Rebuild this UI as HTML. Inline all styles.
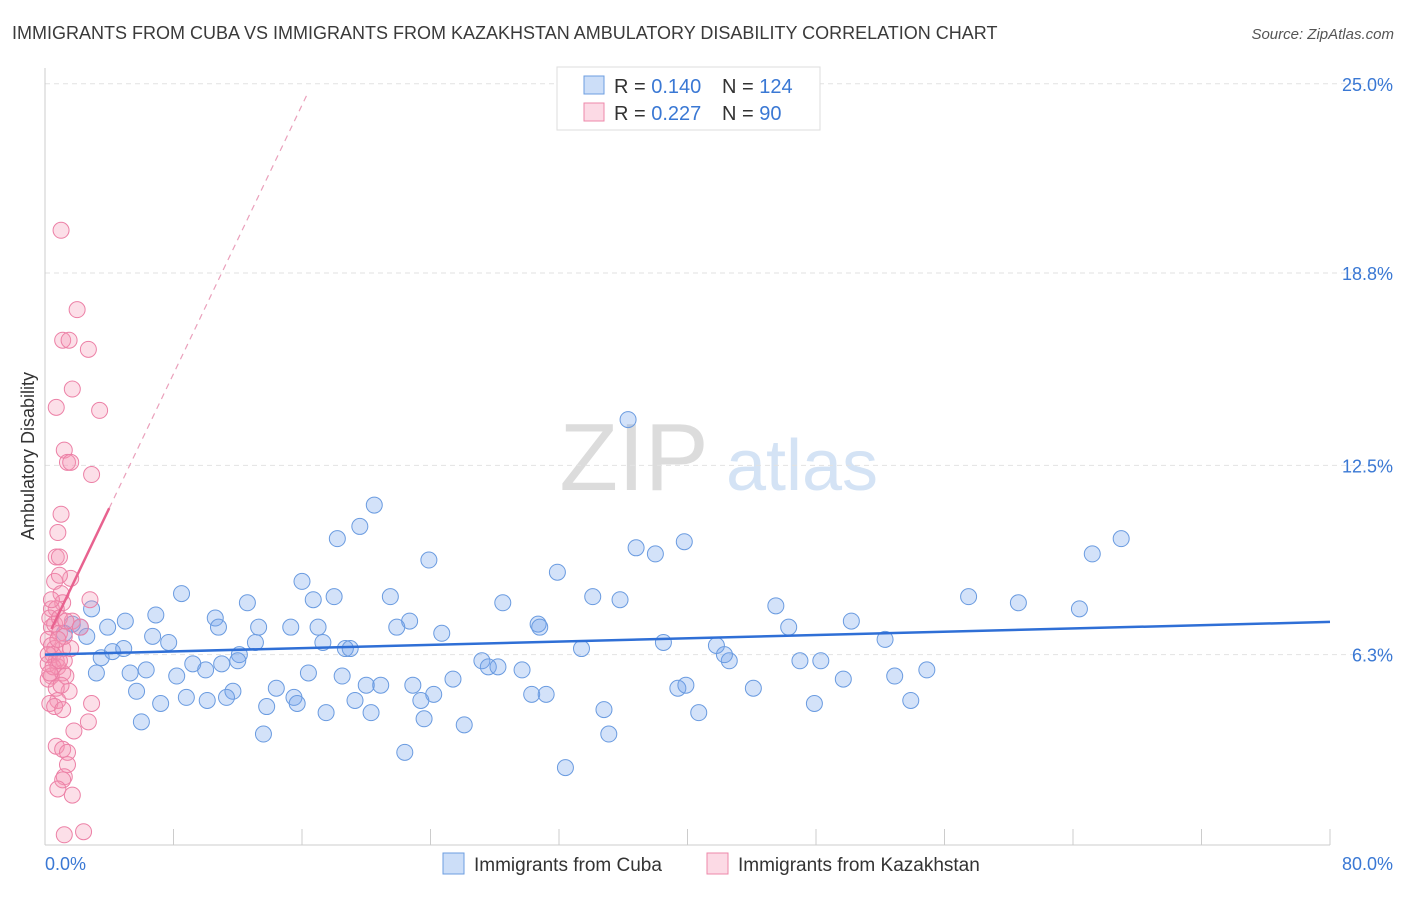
<!DOCTYPE html>
<html><head><meta charset="utf-8">
<style>
body{margin:0;background:#fff;font-family:"Liberation Sans",sans-serif;}
svg text{font-family:"Liberation Sans",sans-serif;}
</style></head>
<body>
<svg id="chart" width="1406" height="892" viewBox="0 0 1406 892" xmlns="http://www.w3.org/2000/svg">
<text x="12" y="39" font-size="18" fill="#3a3a3a">IMMIGRANTS FROM CUBA VS IMMIGRANTS FROM KAZAKHSTAN AMBULATORY DISABILITY CORRELATION CHART</text>
<text x="1394" y="39" font-size="15" fill="#555" font-style="italic" text-anchor="end">Source: ZipAtlas.com</text>
<g>
<text x="634" y="490" font-size="96" fill="#dcdcdc" text-anchor="middle" font-family="Liberation Serif">ZIP</text>
<text x="802" y="490" font-size="72" fill="#d4e3f5" text-anchor="middle">atlas</text>
</g>
<g id="grid"></g>
<g id="axes"></g>
<g id="marks"></g>
<text transform="translate(34,456) rotate(-90)" font-size="18" fill="#333" text-anchor="middle">Ambulatory Disability</text>
<g>
<rect x="557" y="67" width="263" height="63" fill="#fff" stroke="#ddd"/>
<g>
<rect x="584" y="76" width="20" height="18" fill="rgba(110,160,235,0.35)" stroke="#6c9ee0"/>
<text x="614" y="93" font-size="20" fill="#333">R = <tspan fill="#3a78d4">0.140</tspan></text>
<text x="722" y="93" font-size="20" fill="#333">N = <tspan fill="#3a78d4">124</tspan></text>
</g>
<g>
<rect x="584" y="103" width="20" height="18" fill="rgba(245,150,180,0.35)" stroke="#ee88aa"/>
<text x="614" y="120" font-size="20" fill="#333">R = <tspan fill="#3a78d4">0.227</tspan></text>
<text x="722" y="120" font-size="20" fill="#333">N = <tspan fill="#3a78d4"> 90</tspan></text>
</g>
</g>
<g>
<rect x="443" y="853" width="21" height="21" fill="rgba(110,160,235,0.35)" stroke="#6c9ee0"/>
<text x="474" y="871" font-size="19" fill="#333">Immigrants from Cuba</text>
<rect x="707" y="853" width="21" height="21" fill="rgba(245,150,180,0.35)" stroke="#ee88aa"/>
<text x="738" y="871" font-size="19" fill="#333">Immigrants from Kazakhstan</text>
</g>
</svg>
<script>
const yTicks=[6.3,12.5,18.8,25.0];
const yTickLabels=["6.3%","12.5%","18.8%","25.0%"];
const xTickLabels=["0.0%","80.0%"];
const cubaX=[36.3,20.5,19.6,18.2,67.0,65.2,39.8,36.8,38.0,23.9,31.9,16.0,8.5,18.0,21.5,34.1,35.8,12.6,16.7,28.5,45.5,57.5,60.6,64.4,2.9,6.9,5.0,10.6,22.7,30.7,21.9,30.8,10.8,1.7,3.9,13.3,15.3,17.0,50.2,46.3,52.3,24.7,6.7,2.6,1.2,2.2,7.7,4.9,4.2,17.3,18.7,19.0,13.1,33.4,38.5,41.8,42.6,3.5,12.1,12.0,9.2,11.0,27.2,27.6,28.2,29.7,42.3,47.0,48.3,6.3,5.3,10.0,16.4,3.2,8.2,18.5,25.4,49.7,52.9,54.9,20.9,20.0,22.9,24.2,30.3,31.2,39.4,39.9,44.1,5.7,8.8,11.7,14.4,15.5,15.7,19.3,23.4,10.1,11.3,7.2,47.9,53.9,13.8,17.5,20.3,34.8,40.7,6.0,23.6,26.1,13.6,35.1,22.4,32.4];
const cubaY=[14.0,11.2,10.5,10.1,10.1,9.6,10.0,9.8,9.6,9.4,9.0,8.7,8.3,8.2,8.2,8.2,8.1,8.0,8.1,8.0,7.9,8.2,8.0,7.8,7.8,7.6,7.4,7.5,7.4,7.3,7.2,7.2,7.2,7.3,7.2,7.2,7.2,7.2,7.4,7.2,6.8,7.0,6.9,6.9,7.0,7.2,6.7,6.5,6.4,6.7,6.5,6.5,6.7,6.5,6.7,6.6,6.1,6.2,6.3,6.1,6.0,6.0,6.1,5.9,5.9,5.8,6.3,6.1,6.1,5.8,5.7,5.8,5.7,5.7,5.6,5.6,5.5,5.5,5.6,5.8,5.3,5.3,5.3,5.0,5.0,5.0,5.2,5.3,5.2,5.1,4.9,5.1,5.2,4.9,4.7,4.8,4.8,4.8,4.9,4.7,4.7,4.8,4.6,4.4,4.4,4.5,4.4,4.1,4.2,4.0,3.7,3.7,3.1,2.6];
const kazX=[1.0,2.0,1.1,1.5,2.7,1.7,0.7,3.4,1.2,1.4,1.6,2.9,1.0,0.8,0.7,0.9,1.6,0.6,0.9,1.0,1.1,2.8,0.4,0.7,1.7,2.2,0.4,0.9,0.2,0.6,1.1,0.5,0.7,0.2,0.8,0.4,0.2,1.1,1.3,1.5,0.7,0.8,0.3,0.6,2.9,1.1,2.7,1.8,0.7,1.1,1.4,1.4,1.2,1.1,0.8,1.7,1.2,2.4,0.3,0.6,1.2,1.6,0.4,0.2,0.4,0.9,1.2,0.8,1.3,0.5,0.3,1.0,0.9];
const kazY=[20.2,17.6,16.6,16.6,16.3,15.0,14.4,14.3,13.0,12.6,12.6,12.2,10.9,10.3,9.5,9.5,8.8,8.7,8.9,8.3,8.0,8.1,7.8,7.8,7.4,7.2,7.2,7.0,6.8,6.5,6.5,6.3,6.1,6.0,5.9,5.6,5.5,5.7,5.6,5.1,5.2,4.8,4.7,4.6,4.7,4.5,4.1,3.8,3.3,3.2,3.1,2.7,2.3,2.2,1.9,1.7,0.4,0.5,7.5,7.3,6.1,6.5,6.6,6.3,8.1,7.5,6.9,6.8,7.4,5.9,5.7,5.3,6.1];
const cubaTrend=[6.3,0.0134]; // intercept, slope
const kazTrend=[6.7,1.1];
const kazSolidRange=[0.4,4.0];
const kazDashEnd=16.3;

const NS="http://www.w3.org/2000/svg";
const X0=45,X1=1330,Y0=847,PXY=30.53;
const sx=v=>X0+(v/80)*(X1-X0);
const sy=v=>Y0-v*PXY;
function mk(tag,attrs,parent){const e=document.createElementNS(NS,tag);for(const k in attrs)e.setAttribute(k,attrs[k]);parent.appendChild(e);return e;}
const grid=document.getElementById('grid'),axes=document.getElementById('axes'),marks=document.getElementById('marks');
yTicks.forEach((t,i)=>{
  const l=mk('line',{x1:X0,x2:1394,y1:sy(t),y2:sy(t),stroke:'#e2e2e2','stroke-dasharray':'5,4'},grid);
  
  
  const tx=mk('text',{x:1393,y:sy(t)+7,'font-size':18,fill:'#3a78d4','text-anchor':'end'},axes);
  tx.textContent=yTickLabels[i];
  
  
});
const ya=mk('line',{x1:X0,x2:X0,y1:68,y2:845,stroke:'#ccc'},axes);


const xa=mk('line',{x1:X0,x2:X1,y1:845,y2:845,stroke:'#ccc'},axes);


for(let i=0;i<=10;i++){
  const t=mk('line',{x1:sx(i*8),x2:sx(i*8),y1:829,y2:845,stroke:'#ccc'},axes);
  
  
}
const xl0=mk('text',{x:45,y:870,'font-size':18,fill:'#3a78d4'},axes);xl0.textContent=xTickLabels[0];


const xl1=mk('text',{x:1393,y:870,'font-size':18,fill:'#3a78d4','text-anchor':'end'},axes);xl1.textContent=xTickLabels[1];



cubaX.forEach((x,i)=>{
  const c=mk('circle',{cx:sx(x),cy:sy(cubaY[i]),r:8,fill:'rgba(110,160,235,0.3)',stroke:'#6a9be0','stroke-width':1},marks);
  
  
});
kazX.forEach((x,i)=>{
  const c=mk('circle',{cx:sx(x),cy:sy(kazY[i]),r:8,fill:'rgba(245,150,180,0.3)',stroke:'#ec80a6','stroke-width':1},marks);
  
  
});
const bt=mk('line',{x1:sx(0),y1:sy(cubaTrend[0]),x2:sx(80),y2:sy(cubaTrend[0]+cubaTrend[1]*80),stroke:'#2f6fd6','stroke-width':2.5},marks);


const kf=x=>kazTrend[0]+kazTrend[1]*x;
const pd=mk('line',{x1:sx(kazSolidRange[1]),y1:sy(kf(kazSolidRange[1])),x2:sx(kazDashEnd),y2:sy(kf(kazDashEnd)),stroke:'#eaa0bb','stroke-width':1.2,'stroke-dasharray':'6,5'},marks);


const ps=mk('line',{x1:sx(kazSolidRange[0]),y1:sy(kf(kazSolidRange[0])),x2:sx(kazSolidRange[1]),y2:sy(kf(kazSolidRange[1])),stroke:'#e8628f','stroke-width':2.5},marks);


</script>
</body></html>
